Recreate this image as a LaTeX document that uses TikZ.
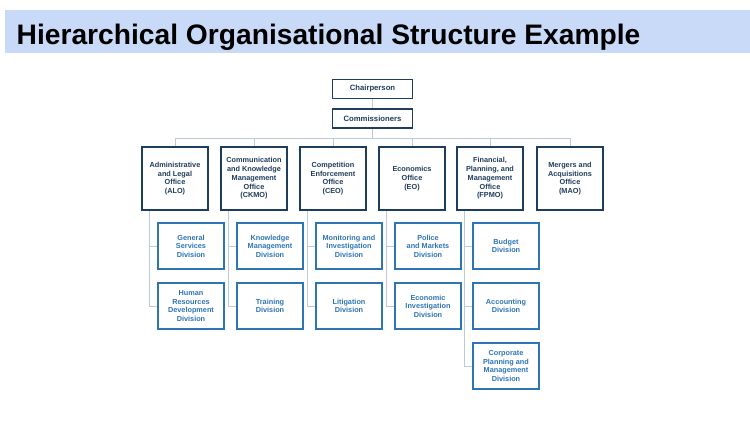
\documentclass[tikz,border=0pt]{standalone}
\usepackage{fontspec}
\setmainfont{Liberation Sans}
\definecolor{band}{HTML}{C9DAF8}
\definecolor{navy}{HTML}{1F3D5C}
\definecolor{divblue}{HTML}{2E75B6}
\definecolor{connc}{HTML}{BCCBDA}
\begin{document}
\begin{tikzpicture}[x=1pt,y=-1pt,
  top/.style={draw=navy,line width=1.8pt,minimum width=80pt,minimum height=19pt,inner sep=0pt,
    font=\fontsize{7.7}{8.5}\selectfont\bfseries,text=navy,align=center},
  office/.style={draw=navy,line width=1.8pt,minimum width=66pt,minimum height=63pt,inner sep=0pt,
    font=\fontsize{7.3}{8.7}\selectfont\bfseries,text=navy,align=center},
  division/.style={draw=divblue,line width=1.6pt,minimum width=66pt,minimum height=46pt,inner sep=0pt,
    font=\fontsize{7.3}{8.4}\selectfont\bfseries,text=divblue,align=center},
  conn/.style={draw=connc,line width=0.9pt}]
\useasboundingbox (0,0) rectangle (750,424);
\fill[white] (0,0) rectangle (750,424);
\fill[band] (5,9.7) rectangle (750,53);
\node[anchor=base west,inner sep=0pt,font=\fontsize{28.2}{30}\selectfont\bfseries] (title) at (16.5,44.3) {Hierarchical Organisational Structure Example};

\node[top] (chair) at (372.5,89) {Chairperson};
\node[top] (comm) at (372.5,118.8) {Commissioners};

\node[office] (alo) at (175,178.5) {Administrative\\and Legal\\Office\\(ALO)};
\node[office] (ckmo) at (254,178.5) {Communication\\and Knowledge\\Management\\Office\\(CKMO)};
\node[office] (ceo) at (333,178.5) {Competition\\Enforcement\\Office\\(CEO)};
\node[office] (eo) at (412,178.5) {Economics\\Office\\(EO)};
\node[office] (fpmo) at (490,178.5) {Financial,\\Planning, and\\Management\\Office\\(FPMO)};
\node[office] (mao) at (570,178.5) {Mergers and\\Acquisitions\\Office\\(MAO)};

\node[division] (gsd) at (191,246) {General\\Services\\Division};
\node[division] (hrd) at (191,306) {Human\\Resources\\Development\\Division};
\node[division] (kmd) at (270,246) {Knowledge\\Management\\Division};
\node[division] (trd) at (270,306) {Training\\Division};
\node[division] (mid) at (349,246) {Monitoring and\\Investigation\\Division};
\node[division] (lid) at (349,306) {Litigation\\Division};
\node[division] (pmd) at (428,246) {Police\\and Markets\\Division};
\node[division] (eid) at (428,306) {Economic\\Investigation\\Division};
\node[division] (bud) at (506,246) {Budget\\Division};
\node[division] (acd) at (506,306) {Accounting\\Division};
\node[division] (cpd) at (506,366) {Corporate\\Planning and\\Management\\Division};

\coordinate (busL) at (175,138);
\coordinate (busR) at (570,138);
\coordinate (busM) at (372.5,138);
\draw[conn] (chair.south) -- (comm.north);
\draw[conn] (comm.south) -- (busM);
\draw[conn] (busL) -- (busR);
\foreach \o in {alo,ckmo,ceo,eo,fpmo,mao} {\draw[conn] (\o.north |- busM) -- (\o.north);}
\draw[conn] ([xshift=8pt]alo.south west) |- (gsd.west);
\draw[conn] ([xshift=8pt]alo.south west) |- (hrd.west);
\draw[conn] ([xshift=8pt]ckmo.south west) |- (kmd.west);
\draw[conn] ([xshift=8pt]ckmo.south west) |- (trd.west);
\draw[conn] ([xshift=8pt]ceo.south west) |- (mid.west);
\draw[conn] ([xshift=8pt]ceo.south west) |- (lid.west);
\draw[conn] ([xshift=8pt]eo.south west) |- (pmd.west);
\draw[conn] ([xshift=8pt]eo.south west) |- (eid.west);
\draw[conn] ([xshift=8pt]fpmo.south west) |- (bud.west);
\draw[conn] ([xshift=8pt]fpmo.south west) |- (acd.west);
\draw[conn] ([xshift=8pt]fpmo.south west) |- (cpd.west);
\end{tikzpicture}
\end{document}
